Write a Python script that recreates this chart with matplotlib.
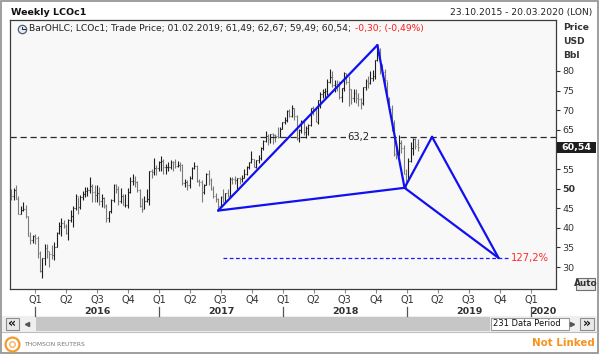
import numpy as np
import pandas as pd
import matplotlib
matplotlib.use("Agg")
import matplotlib.pyplot as plt
import matplotlib.dates as mdates
import matplotlib.transforms as mtransforms
from matplotlib.patches import Rectangle
from matplotlib.lines import Line2D

# weekly LCOc1 bars (Fridays), 23.10.2015 .. 01.02.2019
week_high = [
    50.0, 50.2, 50.9, 48.1, 45.5, 46.5, 45.9, 43.0, 39.0, 38.2,
    38.5, 37.8, 34.0, 32.4, 36.0, 35.9, 34.0, 35.6, 36.3, 38.9, 41.4, 42.5, 42.0,
    41.0, 42.2, 44.6, 45.6, 48.5, 47.8, 48.3, 49.4, 50.5, 50.4, 52.9, 51.1, 51.0,
    50.8, 50.3, 48.5, 47.9, 46.1, 44.3, 47.3, 51.2, 51.2, 50.6, 50.2, 48.6, 48.5,
    50.1, 52.9, 53.7, 53.2, 51.9, 49.8, 47.6, 48.1, 49.9, 54.5, 54.9, 57.9, 55.9, 57.0,
    58.4, 57.5, 56.2, 56.8, 57.2, 57.0, 57.5, 57.1, 56.7, 56.3, 52.5, 52.1, 53.1,
    55.6, 56.7, 56.1, 52.4, 52.2, 51.2, 54.0, 54.7, 52.7, 50.7, 48.8, 47.5, 48.2,
    50.0, 49.0, 50.0, 52.9, 53.0, 53.2, 52.8, 53.0, 53.4, 54.9, 55.8, 56.9, 59.5,
    57.6, 57.3, 58.5, 60.5, 62.3, 64.7, 64.0, 63.9, 64.1, 64.0, 65.8, 65.6, 67.0,
    68.3, 70.1, 70.4, 71.3, 70.6, 68.9, 65.1, 67.6, 67.8, 66.0, 66.4, 70.6, 71.0,
    70.5, 72.7, 74.7, 75.3, 75.6, 78.0, 80.5, 80.0, 77.8, 77.7, 77.5, 75.6, 79.7,
    79.4, 78.6, 75.5, 75.3, 75.4, 74.4, 73.2, 75.9, 78.0, 78.6, 80.1, 80.2, 82.9,
    86.7, 85.9, 81.9, 80.6, 77.5, 73.3, 71.3, 67.6, 61.3, 63.7, 62.4, 61.2, 55.0,
    57.7, 61.9, 62.9, 63.0, 62.67,
]
week_low = [
    47.2, 47.0, 47.4, 43.6, 43.4, 44.3, 42.6, 37.8, 36.0, 36.1,
    36.0, 32.2, 28.8, 27.1, 30.5, 32.2, 30.0, 32.1, 31.9, 35.0, 38.4, 37.9, 39.9,
    38.3, 36.8, 41.6, 40.1, 44.5, 43.6, 44.8, 47.0, 47.9, 48.2, 49.0, 46.7, 46.7,
    46.6, 45.9, 45.2, 45.1, 41.6, 41.5, 43.8, 46.5, 48.9, 45.8, 46.4, 45.7, 45.2,
    45.0, 48.9, 51.0, 50.5, 49.2, 45.2, 44.1, 44.8, 46.6, 45.9, 52.8, 53.5, 53.4, 54.4,
    54.6, 53.6, 53.6, 54.6, 54.9, 54.6, 55.2, 55.5, 54.6, 51.0, 50.3, 49.7, 50.2,
    52.5, 54.9, 51.7, 50.6, 46.6, 48.5, 50.8, 51.0, 49.7, 47.6, 46.6, 44.4, 45.2,
    46.5, 46.5, 47.9, 48.0, 51.2, 51.2, 49.9, 51.3, 51.6, 52.6, 53.5, 55.0, 56.5,
    55.5, 55.3, 56.6, 57.4, 59.8, 61.8, 61.2, 61.6, 61.5, 61.8, 62.9, 63.1, 65.1,
    66.4, 66.9, 68.3, 68.3, 67.6, 62.5, 61.8, 64.2, 63.6, 62.9, 63.8, 65.9, 68.7,
    66.9, 66.6, 70.6, 73.1, 72.9, 73.8, 76.9, 75.9, 74.6, 74.8, 72.8, 72.0, 74.8,
    76.6, 71.1, 71.6, 72.1, 71.8, 71.1, 70.3, 71.4, 75.2, 75.6, 76.6, 77.5, 78.0,
    82.6, 79.2, 78.6, 75.1, 72.5, 69.8, 64.6, 58.4, 57.5, 58.4, 59.2, 53.6, 50.0,
    52.5, 56.8, 58.6, 60.0, 59.49,
]
week_close = [
    47.99, 49.56, 47.42, 43.61, 44.66, 44.86, 43.00, 37.93, 36.88, 37.89,
    37.28, 33.55, 28.94, 32.18, 34.74, 34.06, 33.36, 33.01, 35.10, 38.72, 40.39, 41.20, 40.44,
    38.67, 41.94, 43.10, 45.11, 48.13, 45.37, 47.83, 48.72, 49.32, 49.64, 50.54, 49.17, 48.41,
    48.99, 46.76, 47.61, 45.69, 42.46, 44.27, 46.97, 50.88, 49.92, 46.83, 48.01, 45.77, 45.89,
    49.06, 51.93, 51.95, 51.78, 49.71, 45.58, 44.75, 46.86, 47.24, 54.46, 54.33, 55.21, 55.16, 56.82,
    57.10, 55.45, 55.49, 55.52, 56.81, 56.70, 55.81, 56.03, 55.90, 51.37, 51.76, 50.80, 52.83,
    55.24, 55.89, 51.96, 51.73, 49.10, 50.84, 53.61, 52.15, 49.95, 48.15, 47.37, 45.54, 47.92,
    46.71, 48.91, 48.06, 52.52, 52.42, 52.10, 52.72, 52.41, 52.75, 53.78, 55.62, 56.86, 57.54,
    55.62, 57.17, 57.75, 60.44, 62.07, 63.52, 62.72, 63.86, 63.73, 63.40, 63.23, 65.25, 66.87,
    67.62, 69.87, 68.61, 70.52, 68.58, 62.79, 64.84, 67.31, 64.37, 65.49, 66.21, 70.45, 70.27,
    67.11, 72.58, 74.06, 74.64, 74.87, 77.12, 78.51, 76.44, 76.79, 76.46, 73.44, 75.55, 79.44,
    77.11, 75.33, 73.07, 74.29, 73.21, 72.81, 71.83, 75.82, 77.42, 76.83, 78.09, 78.80, 82.72,
    84.16, 80.43, 79.78, 77.62, 72.83, 70.18, 66.76, 58.80, 58.71, 61.67, 60.28, 53.82, 52.20,
    57.06, 60.48, 62.70, 60.84, 60.54,
]
first_open = 48.60
last_open = 61.49

# X-A-B-C-D pattern drawn over the bars
pattern_dates = ["2017-06-23", "2018-10-05", "2018-12-24", "2019-03-15", "2019-09-27"]
pattern_prices = [44.4, 86.6, 50.2, 63.2, 32.3]
pattern_legs = [(0, 1), (1, 2), (2, 3), (3, 4), (0, 2), (2, 4)]

level_price = 63.2
level_label = "63,2"
ext_price = 32.3
ext_label = "127,2%"
ext_span = ["2017-07-07", "2019-10-31"]

quarter_dates = ["2016-01-01", "2016-04-01", "2016-07-01", "2016-10-01",
                 "2017-01-01", "2017-04-01", "2017-07-01", "2017-10-01",
                 "2018-01-01", "2018-04-01", "2018-07-01", "2018-10-01",
                 "2019-01-01", "2019-04-01", "2019-07-01", "2019-10-01",
                 "2020-01-01"]
quarter_labels = ["Q1", "Q2", "Q3", "Q4", "Q1", "Q2", "Q3", "Q4", "Q1", "Q2",
                  "Q3", "Q4", "Q1", "Q2", "Q3", "Q4", "Q1"]
year_labels = ["2016", "2017", "2018", "2019", "2020"]
price_ticks = [30, 35, 40, 45, 50, 55, 60, 65, 70, 75, 80]
x_range = ["2015-10-19", "2020-03-14"]
y_range = (24.4, 93.0)

legend_main = "BarOHLC; LCOc1; Trade Price; 01.02.2019; 61,49; 62,67; 59,49; 60,54;"
legend_change = "-0,30; (-0,49%)"

W, H = 600, 355
plt.rcParams["font.family"] = ["DejaVu Sans"]
fig = plt.figure(figsize=(W / 100, H / 100), dpi=100, facecolor="white")


def fx(x):
    return x / W


def fy(y):
    return 1 - y / H


def rect(x0, y0, x1, y1, **kw):
    fig.add_artist(Rectangle((fx(x0), fy(y1)), (x1 - x0) / W, (y1 - y0) / H,
                             transform=fig.transFigure, **kw))


def main():
    # window chrome
    rect(2, 316, 597, 332, facecolor="#efefef", edgecolor="none")
    rect(36, 317, 490, 331, facecolor="#c6c6c6", edgecolor="none")
    rect(1, 1, 598, 353, fill=False, edgecolor="#8e8e8e", lw=1.2)
    fig.add_artist(Line2D([fx(2), fx(597)], [fy(332), fy(332)], transform=fig.transFigure,
                          color="#bdbdbd", lw=0.8))

    ax = fig.add_axes([fx(10), fy(289), (556 - 10) / W, (289 - 20) / H])
    ax.set_facecolor("#f8f8f8")

    # OHLC bars
    x = mdates.date2num(pd.date_range("2015-10-23", periods=len(week_close), freq="W-FRI"))
    c = np.array(week_close)
    o = np.r_[first_open, c[:-1]]
    o[-1] = last_open
    cols = np.where(c >= o, "#1e1e1e", "#7a7a7a")
    ax.vlines(x, week_low, week_high, colors=cols, lw=0.8)
    ax.hlines(o, x - 2.5, x, colors=cols, lw=0.8)
    ax.hlines(c, x, x + 2.5, colors=cols, lw=0.8)

    # levels
    blend = mtransforms.blended_transform_factory(ax.transAxes, ax.transData)
    ax.axhline(level_price, color="#2a2a2a", lw=0.9, ls=(0, (5, 3)))
    ax.text(0.638, level_price, level_label, transform=blend, ha="center", va="center",
            fontsize=7.2, color="#222222", bbox=dict(fc="#f8f8f8", ec="none", pad=1))
    ex = mdates.date2num(pd.to_datetime(ext_span))
    ax.hlines(ext_price, ex[0], ex[1], colors="#1a1aff", lw=0.9, ls=(0, (3, 2)))
    ax.text(ex[1] + 1, ext_price, ext_label, color="#ff2a2a", fontsize=7.2,
            va="center", ha="left")

    # pattern
    px = mdates.date2num(pd.to_datetime(pattern_dates))
    for i, j in pattern_legs:
        ax.plot([px[i], px[j]], [pattern_prices[i], pattern_prices[j]],
                color="#1010f0", lw=1.6, solid_capstyle="round")

    # axes
    ax.set_xlim(mdates.date2num(pd.to_datetime(x_range)))
    ax.set_ylim(*y_range)
    ax.yaxis.tick_right()
    ax.set_yticks(price_ticks)
    ax.set_yticklabels(["" if v == 60 else str(v) for v in price_ticks])
    ax.tick_params(axis="y", direction="out", length=3, width=0.8, pad=1.5,
                   labelsize=6.8, colors="#333333")
    for lab, v in zip(ax.get_yticklabels(), price_ticks):
        if v == 50:
            lab.set_fontweight("bold")
    ax.set_xticks(mdates.date2num(pd.to_datetime(quarter_dates)))
    ax.set_xticklabels(quarter_labels)
    ax.tick_params(axis="x", direction="out", length=3, width=0.8, pad=1.5,
                   labelsize=7, color="#888888", labelcolor="#333333")
    for sp in ax.spines.values():
        sp.set_color("#3c3c3c")
        sp.set_linewidth(0.9)

    # year row
    bt = mtransforms.blended_transform_factory(ax.transData, fig.transFigure)
    xmin, xmax = ax.get_xlim()
    for yl in year_labels:
        y0 = mdates.date2num(pd.Timestamp(yl + "-01-01"))
        y1 = mdates.date2num(pd.Timestamp(yl + "-12-31"))
        mid = (max(y0, xmin) + min(y1, xmax)) / 2
        fig.text(mid, fy(311), yl, transform=bt, ha="center", va="center",
                 fontsize=6.8, weight="bold", color="#333333")
        fig.add_artist(Line2D([y0, y0], [fy(307), fy(316)], transform=bt,
                              color="#555555", lw=0.9))

    # last price box
    pb = mtransforms.blended_transform_factory(fig.transFigure, ax.transData)
    fig.add_artist(Rectangle((fx(557), c[-1] - 1.4), 39 / W, 2.8, transform=pb,
                             facecolor="#1e1e1e", edgecolor="none"))
    fig.text(fx(576.5), c[-1], "60,54", transform=pb, ha="center", va="center",
             fontsize=6.8, weight="bold", color="white")

    # header
    fig.text(fx(11), fy(12.5), "Weekly LCOc1", fontsize=6.8, weight="bold",
             color="#111111", va="center", ha="left")
    fig.text(fx(592), fy(13), "23.10.2015 - 20.03.2020 (LON)", fontsize=6.6,
             color="#222222", va="center", ha="right")
    for lab, yy in zip(["Price", "USD", "Bbl"], [27, 41, 55]):
        fig.text(fx(563), fy(yy), lab, fontsize=6.6, weight="bold", color="#333333",
                 va="center", ha="left")

    # legend line
    fig.add_artist(Line2D([fx(22)], [fy(29)], marker="o", markersize=6,
                          markerfacecolor="#e4ebf3", markeredgecolor="#4d5d70",
                          markeredgewidth=0.9, transform=fig.transFigure))
    fig.add_artist(Line2D([fx(22), fx(22), fx(24.5)], [fy(26.5), fy(29), fy(29)],
                          color="#222222", lw=0.7, transform=fig.transFigure))
    t1 = fig.text(fx(29), fy(29), legend_main, fontsize=6.6, color="#222222",
                  va="center", ha="left")
    bb = t1.get_window_extent(renderer=fig.canvas.get_renderer())
    fig.text((bb.x1 + 4) / W, fy(29), legend_change, fontsize=6.6, color="#ff1a1a",
             va="center", ha="left")

    # Auto button
    rect(576, 278, 595, 290, facecolor="#e6e6e6", edgecolor="#6e6e6e", lw=0.8)
    fig.text(fx(585.5), fy(284), "Auto", fontsize=6.4, weight="bold", color="#333333",
             ha="center", va="center")

    # scroll bar widgets
    rect(6, 318, 19, 330, facecolor="#e8e8e8", edgecolor="#8c8c8c", lw=0.8)
    fig.text(fx(12.5), fy(323.5), "\u00ab", fontsize=9, weight="bold", color="#111111",
             ha="center", va="center")
    rect(580, 318, 594, 330, facecolor="#e8e8e8", edgecolor="#8c8c8c", lw=0.8)
    fig.text(fx(587), fy(323.5), "\u00bb", fontsize=9, weight="bold", color="#111111",
             ha="center", va="center")
    fig.add_artist(Line2D([fx(27)], [fy(324)], marker="<", markersize=3, color="#555555",
                          transform=fig.transFigure))
    fig.add_artist(Line2D([fx(572)], [fy(324)], marker=">", markersize=3, color="#555555",
                          transform=fig.transFigure))
    rect(491, 318, 569, 330, facecolor="white", edgecolor="#9a9a9a", lw=0.8)
    fig.text(fx(493), fy(324), "231 Data Period", fontsize=6, color="#111111",
             ha="left", va="center")

    # footer
    fig.add_artist(Line2D([fx(12)], [fy(344)], marker="o", markersize=10,
                          markerfacecolor="none", markeredgecolor="#f39a2e",
                          markeredgewidth=1.6, transform=fig.transFigure))
    fig.add_artist(Line2D([fx(12)], [fy(344)], marker="o", markersize=4,
                          markerfacecolor="none", markeredgecolor="#f7b360",
                          markeredgewidth=1.0, transform=fig.transFigure))
    fig.text(fx(24), fy(345), "THOMSON REUTERS", fontsize=4.3, color="#777777",
             ha="left", va="center")
    fig.text(fx(595), fy(343), "Not Linked", fontsize=7.4, weight="bold", color="#f7931e",
             ha="right", va="center")

    fig.savefig("out.png", dpi=100, facecolor="white")


if __name__ == "__main__":
    main()
